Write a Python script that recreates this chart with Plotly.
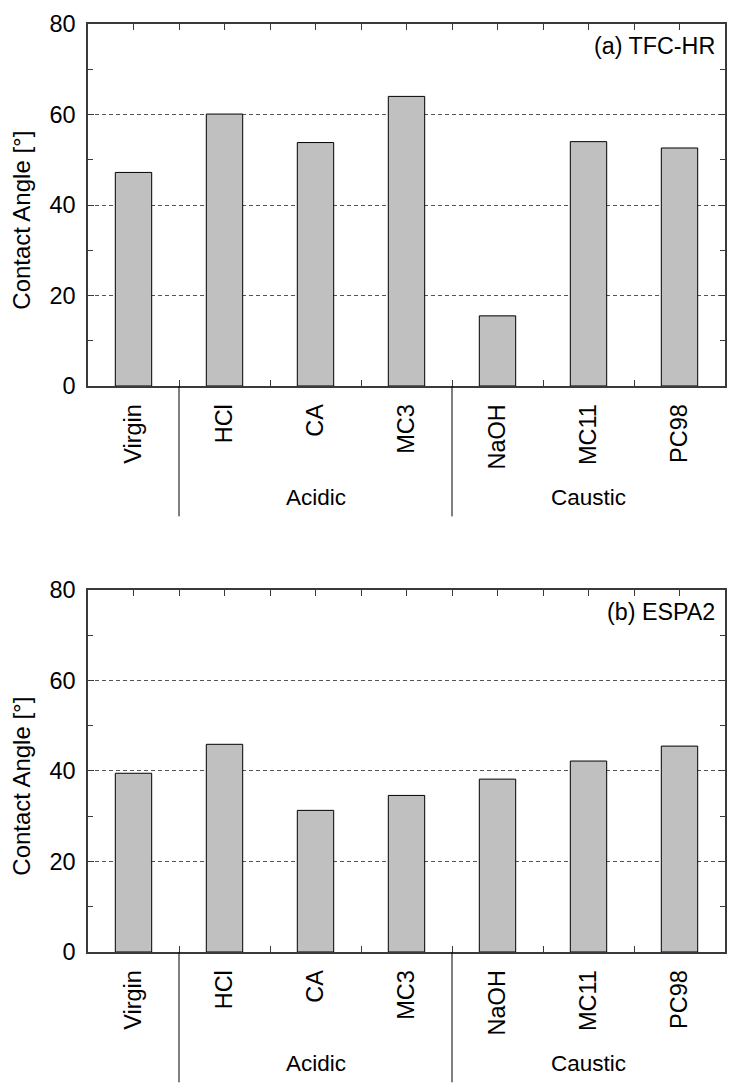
import plotly.graph_objects as go

categories = ["Virgin", "HCl", "CA", "MC3", "NaOH", "MC11", "PC98"]
groups = ["", "Acidic", "Acidic", "Acidic", "Caustic", "Caustic", "Caustic"]
tfc_hr = [47.2, 60.1, 53.8, 64.0, 15.5, 54.0, 52.6]
espa2 = [39.5, 45.9, 31.3, 34.6, 38.2, 42.2, 45.5]
panel_labels = ["(a) TFC-HR", "(b) ESPA2"]
y_ticks = [0, 20, 40, 60, 80]

FONT = "Liberation Sans, Arial, sans-serif"
FS = 23.5
FS_TITLE = 24
FS_GROUP = 22.5
FS_PANEL = 23.3
AXC = "#3a3a3a"
xpos = list(range(len(categories)))

fig = go.Figure()

panels = [(tfc_hr, "x", "y"), (espa2, "x2", "y2")]
for vals, xa, ya in panels:
    fig.add_trace(go.Bar(
        x=xpos, y=vals, xaxis=xa, yaxis=ya, width=0.4,
        marker=dict(color="#c0c0c0", line=dict(color="#000000", width=1)),
        showlegend=False, hoverinfo="skip",
    ))

# group boundaries and centers derived from groups
bounds = [i - 0.5 for i in range(1, len(groups)) if groups[i] != groups[i - 1]]
gnames = []
for g in groups:
    if g and g not in gnames:
        gnames.append(g)
gcenters = {g: sum(i for i, gg in enumerate(groups) if gg == g) / groups.count(g) for g in gnames}

xr = [-0.5, len(categories) - 0.5]
domains = [[0.6099, 1.0], [0.0, 0.3901]]

layout = dict(
    width=728, height=1081, autosize=False,
    margin=dict(l=80, r=11, t=16, b=137),
    paper_bgcolor="white", plot_bgcolor="white",
    font=dict(family=FONT, size=FS, color="black"),
)

for k, (dom, xa, ya) in enumerate([(domains[0], "xaxis", "yaxis"), (domains[1], "xaxis2", "yaxis2")]):
    xname = "x" if k == 0 else "x2"
    yname = "y" if k == 0 else "y2"
    topname = "xaxis3" if k == 0 else "xaxis4"
    layout[xa] = dict(
        domain=[0, 1], anchor=yname, range=xr,
        tickmode="array", tickvals=xpos, ticktext=categories,
        tickangle=-90, ticks="", ticklabelstandoff=7,
        showline=True, linecolor=AXC, linewidth=1.5, mirror=True,
        showgrid=False, zeroline=False, automargin=False,
        tickfont=dict(family=FONT, size=FS, color="black"),
        minor=dict(tickmode="array", tickvals=[i + 0.5 for i in range(len(categories) - 1)],
                   ticks="inside", ticklen=6, tickcolor=AXC, tickwidth=1, showgrid=False),
    )
    layout[topname] = dict(
        overlaying=xname, anchor=yname, side="top", range=xr,
        tickmode="array", tickvals=[i * 0.5 - 0.5 for i in range(2 * len(categories) + 1)],
        ticks="inside", ticklen=6, tickcolor=AXC, tickwidth=1,
        showticklabels=False, showgrid=False, zeroline=False, showline=False,
    )
    layout[ya] = dict(
        domain=dom, anchor=xname, range=[0, 80],
        tickmode="array", tickvals=y_ticks,
        ticks="inside", ticklen=6, tickcolor=AXC, tickwidth=1,
        ticklabelstandoff=6, automargin=False,
        showline=True, linecolor=AXC, linewidth=1.5, mirror="ticks",
        showgrid=True, gridcolor="#555555", gridwidth=1, griddash="4px,3px",
        zeroline=False,
        tickfont=dict(family=FONT, size=FS, color="black"),
        minor=dict(dtick=10, tick0=0, ticks="inside", ticklen=5, tickcolor=AXC, tickwidth=1, showgrid=False),
    )

fig.update_layout(**layout)

# invisible traces to activate top overlay axes
for xa, ya in [("x3", "y"), ("x4", "y2")]:
    fig.add_trace(go.Scatter(x=[None], y=[None], xaxis=xa, yaxis=ya, showlegend=False, hoverinfo="skip"))

for k, (xname, yname) in enumerate([("x", "y"), ("x2", "y2")]):
    ydom = yname + " domain"
    for b in bounds:
        fig.add_shape(type="line", xref=xname, yref=ydom, x0=b, x1=b, y0=0, y1=-0.36,
                      line=dict(color="#000000", width=1))
    for g in gnames:
        fig.add_annotation(x=gcenters[g], y=-0.307, xref=xname, yref=ydom, text=g,
                           showarrow=False, xanchor="center", yanchor="middle",
                           font=dict(family=FONT, size=FS_GROUP, color="black"))
    fig.add_annotation(x=0.987, y=0.938, xref="x domain" if xname == "x" else "x2 domain",
                       yref=ydom, text=panel_labels[k], showarrow=False,
                       xanchor="right", yanchor="middle",
                       font=dict(family=FONT, size=FS_PANEL, color="black"))
    fig.add_annotation(x=-0.105, y=0.457, xref="paper", yref=ydom, text="Contact Angle [°]",
                       textangle=-90, showarrow=False, xanchor="center", yanchor="middle",
                       font=dict(family=FONT, size=FS_TITLE, color="black"))

fig.write_html("out.html")
